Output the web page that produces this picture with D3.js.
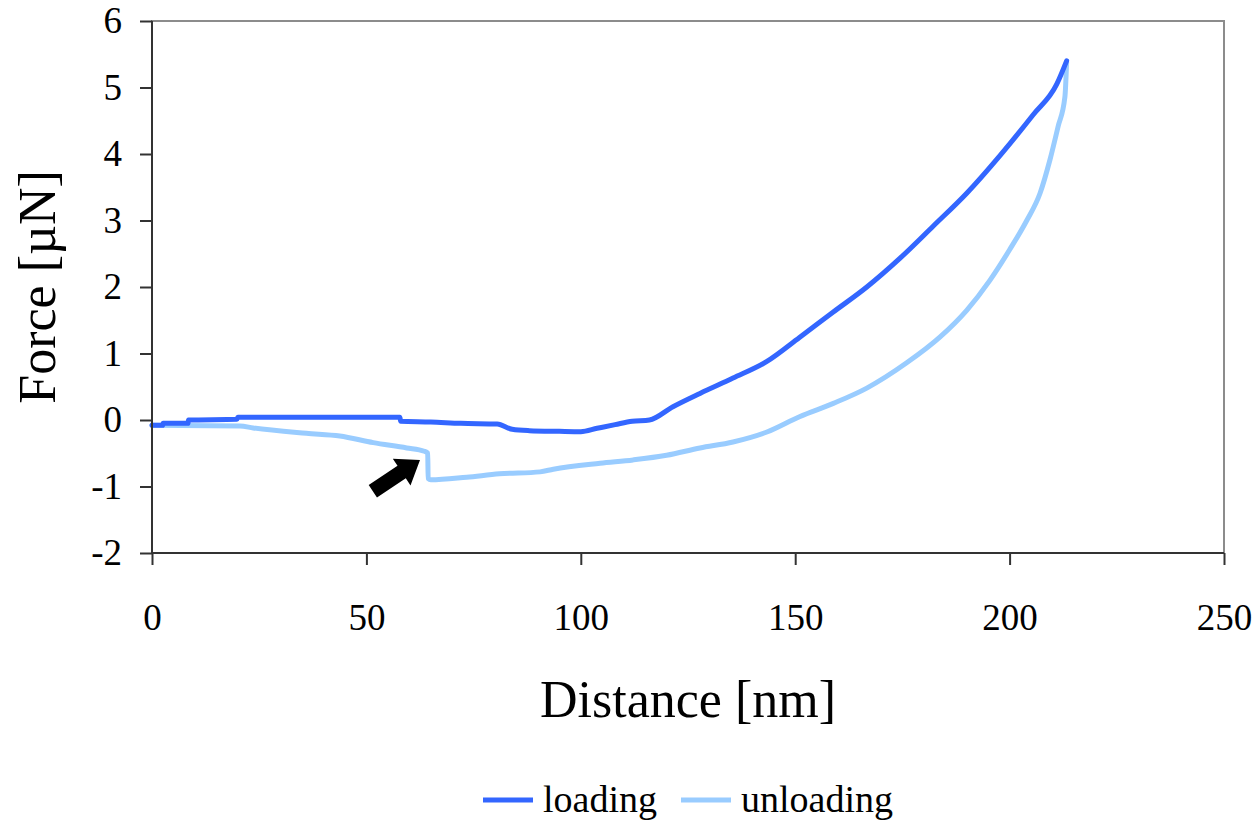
<!DOCTYPE html>
<html>
<head>
<meta charset="utf-8">
<script src="https://cdn.jsdelivr.net/npm/d3@7"></script>
<style>
  body { margin: 0; background: #fff; }
  text { font-family: 'Liberation Serif', 'Times New Roman', serif; fill: #000; }
  .y-axis line, .x-axis line { stroke: #333; stroke-width: 2; }
  .frame { fill: none; stroke: #8c8c8c; stroke-width: 2; }
  .line { fill: none; stroke-width: 5; stroke-linejoin: round; stroke-linecap: round; }
</style>
</head>
<body>
<svg id="plotarea"></svg>
<script>
// loading curve [nm], [µN]
var loadingDist  = [0, 2.5, 2.6, 8.4, 8.5, 19.8, 20, 40, 57.8, 58, 65, 72, 80.5, 84, 88, 95, 100, 103.8, 108, 112, 116, 121.5, 127.8, 135.5, 143.4, 151, 158.8, 166.7, 174.4, 182.1, 190, 197.8, 205.5, 211, 213.3];
var loadingForce = [-0.08, -0.08, -0.05, -0.05, 0, 0.01, 0.04, 0.04, 0.04, -0.02, -0.03, -0.05, -0.06, -0.14, -0.16, -0.17, -0.175, -0.125, -0.07, -0.02, 0, 0.2, 0.4, 0.63, 0.88, 1.24, 1.62, 2.0, 2.43, 2.91, 3.41, 3.98, 4.59, 5.05, 5.40];

// unloading curve
var unloadDist  = [0, 20.5, 23.6, 36, 43.8, 51.6, 59.4, 63.5, 64.3, 64.4, 65, 73.4, 81, 90.5, 93.6, 104.5, 112.2, 120, 127.8, 135.5, 143.4, 151, 158.9, 166.7, 176, 183.8, 190, 195.4, 200, 204, 207.1, 209.4, 211.3, 212.9, 213.3];
var unloadForce = [-0.08, -0.09, -0.12, -0.2, -0.24, -0.34, -0.42, -0.47, -0.5, -0.88, -0.9, -0.86, -0.81, -0.78, -0.74, -0.65, -0.6, -0.53, -0.42, -0.33, -0.18, 0.05, 0.25, 0.48, 0.86, 1.25, 1.65, 2.1, 2.56, 3.0, 3.41, 3.91, 4.41, 4.86, 5.38];

var xTicks = [0, 50, 100, 150, 200, 250];
var yTicks = [-2, -1, 0, 1, 2, 3, 4, 5, 6];

var seriesNames  = ['loading', 'unloading'];
var seriesColors = ['#3366ff', '#99ccff'];

// arrow annotation: tail and tip in data units
var arrowTail = [51.5, -1.07];
var arrowTip  = [62.5, -0.6];

const margin = { top: 21, bottom: 271, left: 152, right: 34 };
const dims = {
    width: 1258 - margin.left - margin.right,
    height: 824 - margin.top - margin.bottom,
};

var root = d3.select('#plotarea')
             .attr('width', 1258)
             .attr('height', 824);

var svg = root.append('g')
              .attr('transform', `translate(${margin.left}, ${margin.top})`);

var x = d3.scaleLinear().domain([0, 250]).range([0, dims.width]);
var y = d3.scaleLinear().domain([-2, 6]).range([dims.height, 0]);

// frame (top and right sides)
svg.append('rect')
   .attr('class', 'frame')
   .attr('x', 0).attr('y', 0)
   .attr('width', dims.width).attr('height', dims.height);

var valueline = d3.line()
                  .curve(d3.curveMonotoneX)
                  .x(function(d) { return x(d[0]); })
                  .y(function(d) { return y(d[1]); });

var loading = loadingDist.map((d, i) => [d, loadingForce[i]]);
var unloading = unloadDist.map((d, i) => [d, unloadForce[i]]);

svg.append('path')
   .attr('class', 'line')
   .style('stroke', seriesColors[1])
   .attr('d', valueline(unloading));

svg.append('path')
   .attr('class', 'line')
   .style('stroke', seriesColors[0])
   .attr('d', valueline(loading));

// plain hyphen for negatives, like the original
var fmt = d => String(d);

// Add the X Axis
var xAxis = svg.append('g')
   .attr('class', 'x-axis')
   .attr('transform', 'translate(0,' + dims.height + ')')
   .call(d3.axisBottom(x).tickValues(xTicks).tickFormat(fmt).tickSize(12).tickSizeOuter(0).tickPadding(39));
xAxis.selectAll('text').style('font-size', '37px');

// Add the Y Axis
var yAxis = svg.append('g')
   .attr('class', 'y-axis')
   .call(d3.axisLeft(y).tickValues(yTicks).tickFormat(fmt).tickSize(12).tickSizeOuter(0).tickPadding(18));
yAxis.selectAll('text').style('font-size', '37px');
svg.selectAll('.domain').remove();
svg.append('line').attr('x1', 0).attr('x2', 0).attr('y1', 0).attr('y2', dims.height)
   .style('stroke', '#333').style('stroke-width', 2);
svg.append('line').attr('x1', 0).attr('x2', dims.width).attr('y1', dims.height).attr('y2', dims.height)
   .style('stroke', '#333').style('stroke-width', 2);

// arrow
var ax0 = x(arrowTail[0]), ay0 = y(arrowTail[1]);
var ax1 = x(arrowTip[0]), ay1 = y(arrowTip[1]);
var len = Math.hypot(ax1 - ax0, ay1 - ay0);
var ux = (ax1 - ax0) / len, uy = (ay1 - ay0) / len;
var px = -uy, py = ux;
var headLen = 22, shaftW = 7.5, headW = 16;
var bx = ax1 - ux * headLen, by = ay1 - uy * headLen;
var arrowPts = [
    [ax0 + px * shaftW, ay0 + py * shaftW],
    [bx + px * shaftW, by + py * shaftW],
    [bx + px * headW, by + py * headW],
    [ax1, ay1],
    [bx - px * headW, by - py * headW],
    [bx - px * shaftW, by - py * shaftW],
    [ax0 - px * shaftW, ay0 - py * shaftW]
];
svg.append('polygon')
   .attr('points', arrowPts.map(p => p.join(',')).join(' '))
   .style('fill', '#000');

// text label for the x axis
svg.append('text')
   .attr('transform', `translate(${dims.width/2}, ${dims.height + 164})`)
   .style('text-anchor', 'middle')
   .style('font-size', '52px')
   .text('Distance [nm]');

// text label for the y axis
svg.append('text')
   .attr('transform', 'rotate(-90)')
   .attr('y', 55 - margin.left)
   .attr('x', 0 - (dims.height / 2))
   .style('text-anchor', 'middle')
   .style('font-size', '52px')
   .text('Force [µN]');

// legend
var legendX = [483, 681];
var legend = root.append('g');
seriesNames.forEach(function(name, i) {
    legend.append('line')
          .attr('x1', legendX[i]).attr('x2', legendX[i] + 50)
          .attr('y1', 800).attr('y2', 800)
          .style('stroke', seriesColors[i])
          .style('stroke-width', 5);
    legend.append('text')
          .attr('x', legendX[i] + 60)
          .attr('y', 812)
          .style('font-size', '38px')
          .text(name);
});
</script>
</body>
</html>
